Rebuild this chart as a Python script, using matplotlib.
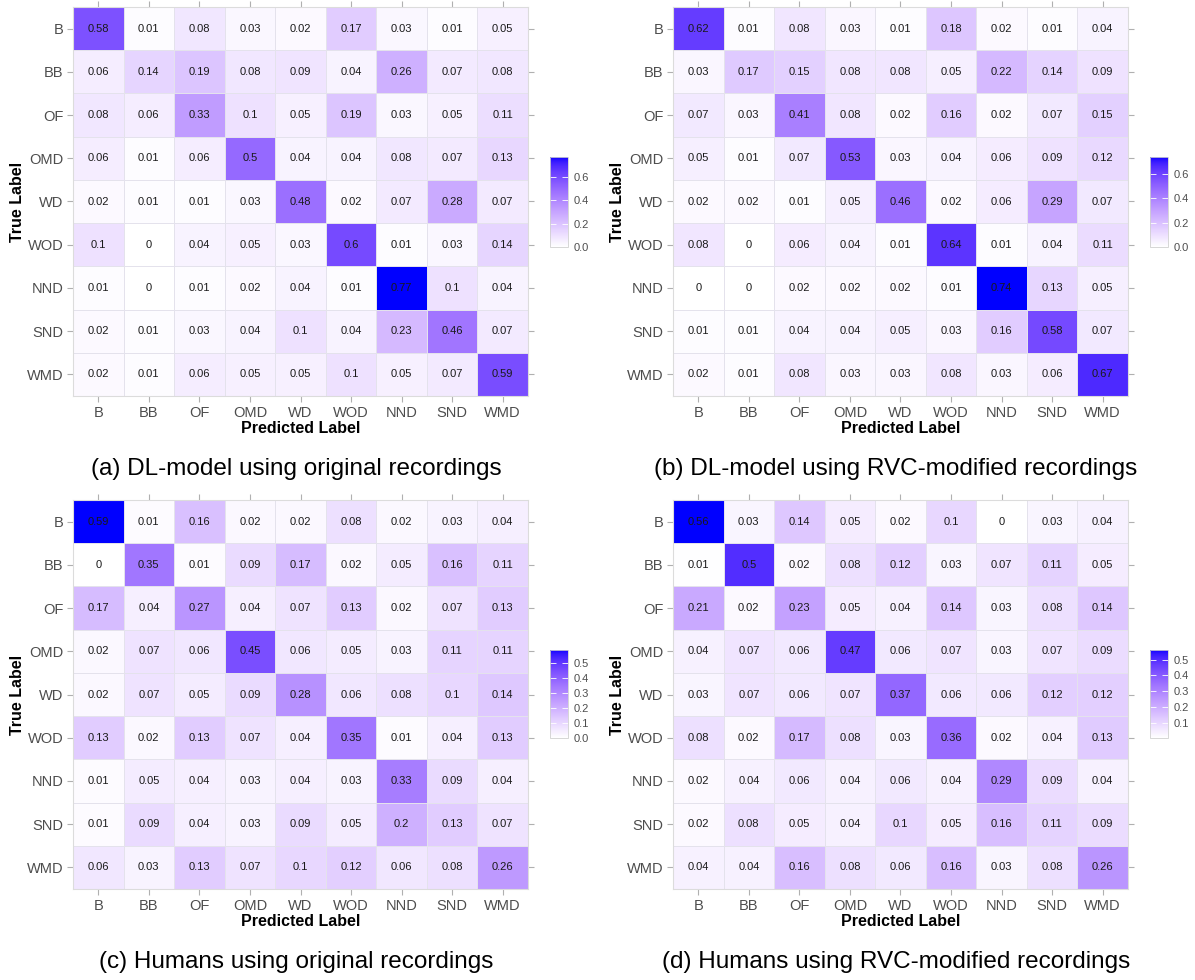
import numpy as np
import matplotlib
matplotlib.use("Agg")
import matplotlib.pyplot as plt
from matplotlib.colors import ListedColormap, Normalize
import matplotlib.cm as cm

plt.rcParams['font.family'] = ['Liberation Sans', 'DejaVu Sans']

labels = ["B", "BB", "OF", "OMD", "WD", "WOD", "NND", "SND", "WMD"]

dl_original = [
    [0.58, 0.01, 0.08, 0.03, 0.02, 0.17, 0.03, 0.01, 0.05],
    [0.06, 0.14, 0.19, 0.08, 0.09, 0.04, 0.26, 0.07, 0.08],
    [0.08, 0.06, 0.33, 0.1, 0.05, 0.19, 0.03, 0.05, 0.11],
    [0.06, 0.01, 0.06, 0.5, 0.04, 0.04, 0.08, 0.07, 0.13],
    [0.02, 0.01, 0.01, 0.03, 0.48, 0.02, 0.07, 0.28, 0.07],
    [0.1, 0, 0.04, 0.05, 0.03, 0.6, 0.01, 0.03, 0.14],
    [0.01, 0, 0.01, 0.02, 0.04, 0.01, 0.77, 0.1, 0.04],
    [0.02, 0.01, 0.03, 0.04, 0.1, 0.04, 0.23, 0.46, 0.07],
    [0.02, 0.01, 0.06, 0.05, 0.05, 0.1, 0.05, 0.07, 0.59],
]
dl_rvc = [
    [0.62, 0.01, 0.08, 0.03, 0.01, 0.18, 0.02, 0.01, 0.04],
    [0.03, 0.17, 0.15, 0.08, 0.08, 0.05, 0.22, 0.14, 0.09],
    [0.07, 0.03, 0.41, 0.08, 0.02, 0.16, 0.02, 0.07, 0.15],
    [0.05, 0.01, 0.07, 0.53, 0.03, 0.04, 0.06, 0.09, 0.12],
    [0.02, 0.02, 0.01, 0.05, 0.46, 0.02, 0.06, 0.29, 0.07],
    [0.08, 0, 0.06, 0.04, 0.01, 0.64, 0.01, 0.04, 0.11],
    [0, 0, 0.02, 0.02, 0.02, 0.01, 0.74, 0.13, 0.05],
    [0.01, 0.01, 0.04, 0.04, 0.05, 0.03, 0.16, 0.58, 0.07],
    [0.02, 0.01, 0.08, 0.03, 0.03, 0.08, 0.03, 0.06, 0.67],
]
humans_original = [
    [0.59, 0.01, 0.16, 0.02, 0.02, 0.08, 0.02, 0.03, 0.04],
    [0, 0.35, 0.01, 0.09, 0.17, 0.02, 0.05, 0.16, 0.11],
    [0.17, 0.04, 0.27, 0.04, 0.07, 0.13, 0.02, 0.07, 0.13],
    [0.02, 0.07, 0.06, 0.45, 0.06, 0.05, 0.03, 0.11, 0.11],
    [0.02, 0.07, 0.05, 0.09, 0.28, 0.06, 0.08, 0.1, 0.14],
    [0.13, 0.02, 0.13, 0.07, 0.04, 0.35, 0.01, 0.04, 0.13],
    [0.01, 0.05, 0.04, 0.03, 0.04, 0.03, 0.33, 0.09, 0.04],
    [0.01, 0.09, 0.04, 0.03, 0.09, 0.05, 0.2, 0.13, 0.07],
    [0.06, 0.03, 0.13, 0.07, 0.1, 0.12, 0.06, 0.08, 0.26],
]
humans_rvc = [
    [0.56, 0.03, 0.14, 0.05, 0.02, 0.1, 0, 0.03, 0.04],
    [0.01, 0.5, 0.02, 0.08, 0.12, 0.03, 0.07, 0.11, 0.05],
    [0.21, 0.02, 0.23, 0.05, 0.04, 0.14, 0.03, 0.08, 0.14],
    [0.04, 0.07, 0.06, 0.47, 0.06, 0.07, 0.03, 0.07, 0.09],
    [0.03, 0.07, 0.06, 0.07, 0.37, 0.06, 0.06, 0.12, 0.12],
    [0.08, 0.02, 0.17, 0.08, 0.03, 0.36, 0.02, 0.04, 0.13],
    [0.02, 0.04, 0.06, 0.04, 0.06, 0.04, 0.29, 0.09, 0.04],
    [0.02, 0.08, 0.05, 0.04, 0.1, 0.05, 0.16, 0.11, 0.09],
    [0.04, 0.04, 0.16, 0.08, 0.06, 0.16, 0.03, 0.08, 0.26],
]

captions = ["(a) DL-model using original recordings",
            "(b) DL-model using RVC-modified recordings",
            "(c) Humans using original recordings",
            "(d) Humans using RVC-modified recordings"]
color_limits = [(0.0, 0.77), (0.0, 0.74), (0.0, 0.59), (0.006, 0.56)]
cbar_ticks = [[0.0, 0.2, 0.4, 0.6], [0.0, 0.2, 0.4, 0.6],
              [0.0, 0.1, 0.2, 0.3, 0.4, 0.5], [0.1, 0.2, 0.3, 0.4, 0.5]]


# ---- Lab interpolation white -> blue (ggplot style) ----
def srgb_to_lab(rgb):
    rgb = np.asarray(rgb, float)
    lin = np.where(rgb <= 0.04045, rgb / 12.92, ((rgb + 0.055) / 1.055) ** 2.4)
    M = np.array([[0.4124, 0.3576, 0.1805], [0.2126, 0.7152, 0.0722], [0.0193, 0.1192, 0.9505]])
    xyz = M @ lin
    wp = np.array([0.95047, 1.0, 1.08883])
    t = xyz / wp
    f = np.where(t > (6 / 29) ** 3, np.cbrt(t), t / (3 * (6 / 29) ** 2) + 4 / 29)
    return np.array([116 * f[1] - 16, 500 * (f[0] - f[1]), 200 * (f[1] - f[2])])


def lab_to_srgb(lab):
    L, a, b = lab
    fy = (L + 16) / 116
    fx = fy + a / 500
    fz = fy - b / 200
    def finv(f):
        return np.where(f > 6 / 29, f ** 3, 3 * (6 / 29) ** 2 * (f - 4 / 29))
    wp = np.array([0.95047, 1.0, 1.08883])
    xyz = np.array([finv(fx), finv(fy), finv(fz)]) * wp
    Minv = np.array([[3.2406, -1.5372, -0.4986], [-0.9689, 1.8758, 0.0415], [0.0557, -0.2040, 1.0570]])
    lin = Minv @ xyz
    lin = np.clip(lin, 0, 1)
    rgb = np.where(lin <= 0.0031308, 12.92 * lin, 1.055 * lin ** (1 / 2.4) - 0.055)
    return np.clip(rgb, 0, 1)


lab_w = srgb_to_lab([1, 1, 1])
lab_b = srgb_to_lab([0, 0, 1])
cols = [lab_to_srgb(lab_w + (lab_b - lab_w) * t) for t in np.linspace(0, 1, 256)]
cmap = ListedColormap(cols)

W, H = 1195, 980
fig = plt.figure(figsize=(W / 100, H / 100), dpi=100)

panel_px = [(73, 7), (673, 7), (73, 500), (673, 500)]
pw, ph = 455, 389
cbar_px = [(550, 157, 90), (1150, 157, 90), (550, 650, 88), (1150, 650, 88)]

tick_gray = '#B0B0B0'
lab_gray = '#4D4D4D'

for k, data in enumerate([dl_original, dl_rvc, humans_original, humans_rvc]):
    arr = np.array(data, float)
    x0, y0 = panel_px[k]
    ax = fig.add_axes([x0 / W, 1 - (y0 + ph) / H, pw / W, ph / H])
    vmin, vmax = color_limits[k]
    norm = Normalize(vmin=vmin, vmax=vmax, clip=True)
    ax.pcolormesh(np.arange(10) - 0.5, np.arange(10) - 0.5, arr, cmap=cmap, norm=norm,
                  edgecolors='#E4E2EC', linewidth=0.6)
    for i in range(9):
        for j in range(9):
            v = arr[i, j]
            s = f"{v:g}"
            ax.text(j, i, s, ha='center', va='center', fontsize=8, color='#1A1A1A')
    ax.set_xlim(-0.5, 8.5)
    ax.set_ylim(8.5, -0.5)
    ax.set_xticks(range(9))
    ax.set_yticks(range(9))
    ax.set_xticklabels(labels)
    ax.set_yticklabels(labels)
    ax.tick_params(axis='both', which='both', length=4, width=0.8, color=tick_gray,
                   labelcolor=lab_gray, labelsize=10.5, pad=3,
                   top=True, right=True, labeltop=False, labelright=False)
    for sp in ax.spines.values():
        sp.set_color('#DCDCDC')
        sp.set_linewidth(0.8)

    cx, cy, chh = cbar_px[k]
    cax = fig.add_axes([cx / W, 1 - (cy + chh) / H, 18 / W, chh / H])
    cb = fig.colorbar(cm.ScalarMappable(norm=Normalize(vmin, vmax), cmap=cmap), cax=cax)
    cb.set_ticks(cbar_ticks[k])
    cb.set_ticklabels([f"{t:.1f}" for t in cbar_ticks[k]])
    cax.tick_params(direction='in', length=4, width=0.6, color='white', left=True, right=True,
                    labelsize=8, labelcolor=lab_gray, pad=4)
    cb.outline.set_edgecolor('#D0D0D0')
    cb.outline.set_linewidth(0.6)

    # axis titles
    fig.text((x0 + pw / 2) / W, 1 - (y0 + ph + 32) / H, "Predicted Label", ha='center', va='center',
             fontsize=11.5, fontweight='bold', color='black')
    fig.text((x0 - 55) / W, 1 - (y0 + ph / 2) / H, "True Label", ha='center', va='center',
             rotation=90, fontsize=11.5, fontweight='bold', color='black')
    # caption
    fig.text((x0 + 223) / W, 1 - (y0 + ph + 73) / H, captions[k], ha='center', va='center',
             fontsize=17.5, color='black')

fig.savefig("out.png", dpi=100)
